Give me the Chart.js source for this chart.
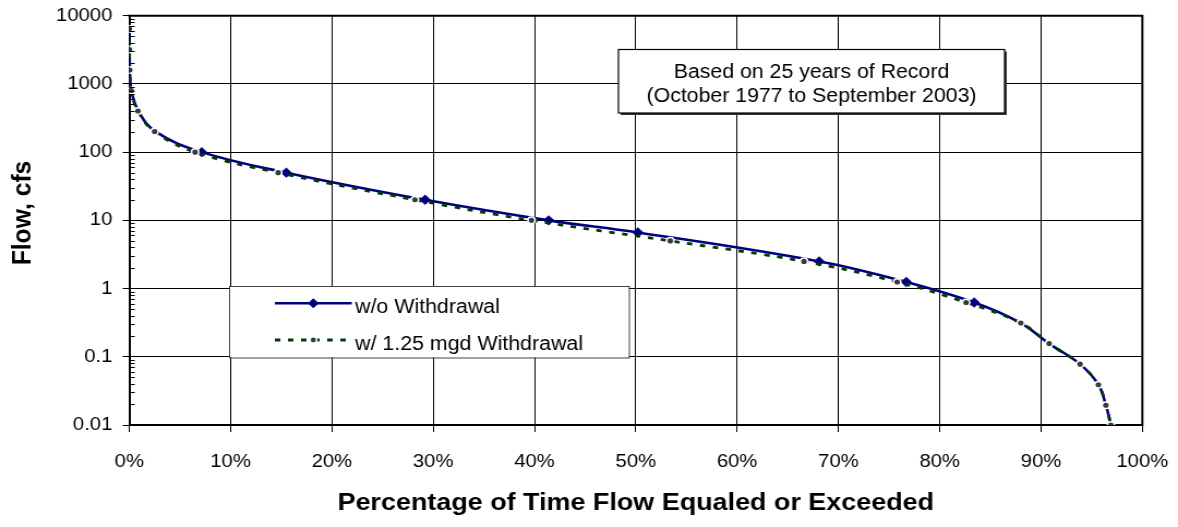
<!DOCTYPE html>
<html><head><meta charset="utf-8">
<script src="https://cdn.jsdelivr.net/npm/chart.js@4.4.1/dist/chart.umd.min.js"></script>
<style>html,body{margin:0;padding:0;background:#fff;overflow:hidden}canvas{display:block}</style>
</head><body>
<canvas id="c" width="1080" height="527" style="width:1178px;height:527px"></canvas>
<script>
// ---- data ----
const seriesNames = ['w/o Withdrawal', 'w/ 1.25 mgd Withdrawal'];
const woPct  = [0.0, 0.02, 0.05, 0.2, 0.9, 2.6, 7.15, 15.5, 29.2, 41.4, 50.2, 68.1, 76.7, 83.4, 88.0, 90.8, 93.85, 95.66, 96.4, 96.9];
const woFlow = [6400, 3200, 1600, 800, 400, 200, 100, 50, 20, 10, 6.65, 2.5, 1.25, 0.625, 0.3125, 0.156, 0.078, 0.039, 0.0195, 0.01];
const wPct   = [0.0, 0.02, 0.05, 0.2, 0.86, 2.5, 6.5, 14.7, 28.2, 39.7, 53.4, 66.6, 75.8, 82.6, 88.0, 90.8, 93.85, 95.66, 96.4, 96.9];
const wFlow  = [6400, 3200, 1600, 800, 400, 200, 100, 50, 20, 10, 5, 2.5, 1.25, 0.625, 0.3125, 0.156, 0.078, 0.039, 0.0195, 0.01];
const xTickValues = [0, 10, 20, 30, 40, 50, 60, 70, 80, 90, 100];
const xTickLabels = ['0%', '10%', '20%', '30%', '40%', '50%', '60%', '70%', '80%', '90%', '100%'];
const yTickValues = [0.01, 0.1, 1, 10, 100, 1000, 10000];
const yTickLabels = ['0.01', '0.1', '1', '10', '100', '1000', '10000'];
const noteLines = ['Based on 25 years of Record', '(October 1977 to September 2003)'];
const xTitle = 'Percentage of Time Flow Equaled or Exceeded';
const yTitle = 'Flow, cfs';

// ---- styles ----
const FONT = "'Liberation Sans', Arial, sans-serif";
const NAVY = '#000080', GREEN = '#003a00', DOT = '#3a3a3a';

const extras = {
  id: 'extras',
  beforeDatasetsDraw(chart) {
    const ctx = chart.ctx;
    ctx.save();
    // annotation box
    const bx = 567, by = 49.5, bw = 354, bh = 63.5;
    ctx.fillStyle = '#333';
    ctx.fillRect(bx + 2, by + 2, bw, bh);
    ctx.fillStyle = '#fff';
    ctx.fillRect(bx, by, bw, bh);
    ctx.strokeStyle = '#000'; ctx.lineWidth = 1.2;
    ctx.strokeRect(bx, by, bw, bh);
    ctx.fillStyle = '#000';
    ctx.font = '19.5px ' + FONT;
    ctx.textAlign = 'center'; ctx.textBaseline = 'alphabetic';
    ctx.fillText(noteLines[0], bx + bw / 2, 78.3);
    ctx.fillText(noteLines[1], bx + bw / 2, 101.7);
    // legend box
    const lx = 210, ly = 286, lw = 366.5, lh = 71.5;
    ctx.fillStyle = '#fff';
    ctx.fillRect(lx, ly, lw, lh);
    ctx.strokeStyle = '#404040'; ctx.lineWidth = 1;
    ctx.strokeRect(lx + 0.5, ly + 0.5, lw, lh);
    // item 1
    const sx0 = 252, sx1 = 322.5, sc = (sx0 + sx1) / 2;
    ctx.strokeStyle = NAVY; ctx.lineWidth = 2.5;
    ctx.beginPath(); ctx.moveTo(sx0, 303.3); ctx.lineTo(sx1, 303.3); ctx.stroke();
    ctx.fillStyle = NAVY;
    ctx.beginPath(); ctx.moveTo(sc, 298.3); ctx.lineTo(sc + 5, 303.3); ctx.lineTo(sc, 308.3); ctx.lineTo(sc - 5, 303.3); ctx.closePath(); ctx.fill();
    // item 2
    ctx.strokeStyle = GREEN; ctx.lineWidth = 2.8; ctx.setLineDash([5, 7]);
    ctx.beginPath(); ctx.moveTo(sx0, 340); ctx.lineTo(sx1, 340); ctx.stroke();
    ctx.setLineDash([]);
    ctx.fillStyle = '#fff';
    ctx.beginPath(); ctx.arc(sc, 340, 3.8, 0, Math.PI * 2); ctx.fill();
    ctx.fillStyle = DOT;
    ctx.beginPath(); ctx.arc(sc, 340, 2.4, 0, Math.PI * 2); ctx.fill();
    ctx.fillStyle = '#000';
    ctx.font = '19.6px ' + FONT; ctx.textAlign = 'left';
    ctx.fillText(seriesNames[0], 325.5, 313.3);
    ctx.fillText(seriesNames[1], 325.5, 350);
    ctx.restore();
  },
  afterDraw(chart) {
    const {ctx, chartArea: a, scales: {y}} = chart;
    ctx.save();
    ctx.strokeStyle = '#000'; ctx.lineWidth = 1;
    ctx.beginPath();
    for (let e = -2; e < 4; e++) {
      for (let m = 2; m < 10; m++) {
        const py = Math.round(y.getPixelForValue(m * Math.pow(10, e))) + 0.5;
        ctx.moveTo(a.left, py); ctx.lineTo(a.left + 5, py);
      }
    }
    ctx.stroke();
    ctx.lineWidth = 2;
    ctx.beginPath();
    ctx.moveTo(a.left - 1, a.top); ctx.lineTo(a.right, a.top); ctx.lineTo(a.right, a.bottom + 1);
    ctx.stroke();
    // y-axis title
    ctx.translate(20.8, 213);
    ctx.rotate(-Math.PI / 2);
    ctx.fillStyle = '#000';
    ctx.font = 'bold 24.7px ' + FONT;
    ctx.textAlign = 'center'; ctx.textBaseline = 'middle';
    ctx.fillText(yTitle, 0, 0);
    ctx.restore();
  }
};

const woData = woPct.map((p, i) => ({x: p, y: woFlow[i]}));
const wData = wPct.map((p, i) => ({x: p, y: wFlow[i]}));

new Chart(document.getElementById('c'), {
  type: 'line',
  data: {
    datasets: [
      {
        label: seriesNames[0], data: woData, order: 1,
        borderColor: NAVY, borderWidth: 2.6, tension: 0.4,
        pointStyle: 'rectRot',
        pointRadius: c => (c.raw && c.raw.y <= 100 && c.raw.y >= 0.6) ? 5.2 : 0,
        pointBackgroundColor: NAVY, pointBorderColor: NAVY, pointBorderWidth: 0
      },
      {
        label: seriesNames[1], data: wData, order: 0,
        borderColor: GREEN, borderWidth: 2.8, borderDash: [5, 7], tension: 0.4,
        pointStyle: 'circle', pointRadius: 3.3,
        pointBackgroundColor: DOT, pointBorderColor: '#fff', pointBorderWidth: 1.5
      }
    ]
  },
  options: {
    responsive: false, animation: false, devicePixelRatio: 1,
    layout: {padding: {top: 15.7, right: 32.7, left: 0, bottom: 0}},
    plugins: {legend: {display: false}, tooltip: {enabled: false}},
    scales: {
      x: {
        type: 'linear', min: 0, max: 100,
        afterBuildTicks: s => { s.ticks = xTickValues.map(v => ({value: v})); },
        afterFit: s => { s.height = 102; s.paddingLeft = 0; s.paddingRight = 0; },
        ticks: {callback: (v, i) => xTickLabels[i], color: '#000', font: {family: FONT, size: 18.6}, padding: 18.5, maxRotation: 0, autoSkip: false},
        grid: {color: '#000', lineWidth: 1, tickLength: 7, tickColor: '#000'},
        border: {color: '#000', width: 2},
        title: {display: true, text: xTitle, color: '#000', font: {family: FONT, size: 24.7, weight: 'bold'}, padding: {top: 0, bottom: 9.2}}
      },
      y: {
        type: 'logarithmic', min: 0.01, max: 10000,
        afterBuildTicks: s => { s.ticks = yTickValues.map(v => ({value: v})); },
        afterFit: s => { s.width = 118.5; s.paddingTop = 0; s.paddingBottom = 0; },
        ticks: {callback: (v, i) => yTickLabels[i], color: '#000', font: {family: FONT, size: 18.6}, padding: 9.5, autoSkip: false},
        grid: {color: '#000', lineWidth: 1, tickLength: 6, tickColor: '#000'},
        border: {color: '#000', width: 2},
        title: {display: false}
      }
    }
  },
  plugins: [extras]
});
</script>
</body></html>
